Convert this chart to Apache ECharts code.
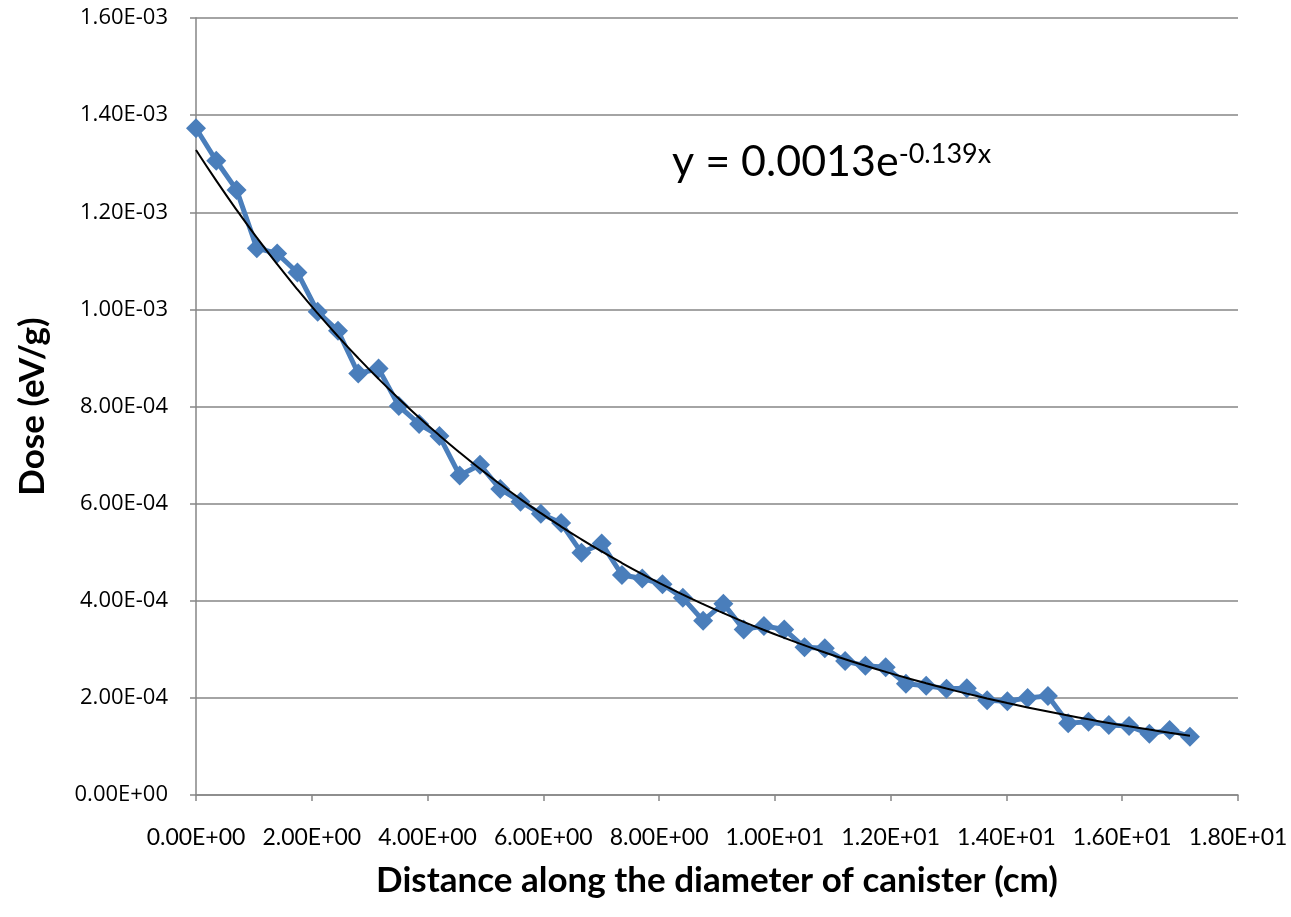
<!DOCTYPE html>
<html>
<head>
<meta charset="utf-8">
<script src="https://cdn.jsdelivr.net/npm/echarts@6/dist/echarts.min.js"></script>
<style>
html,body{margin:0;padding:0;background:#fff;}
#chart{width:1291px;height:917px;}
</style>
</head>
<body>
<div id="chart"></div>
<script>
// Distance along the diameter (cm)
const distance = [
  0.000, 0.350, 0.701, 1.051, 1.402, 1.752, 2.102, 2.453, 2.803, 3.154,
  3.504, 3.854, 4.205, 4.555, 4.906, 5.256, 5.606, 5.957, 6.307, 6.658,
  7.008, 7.358, 7.709, 8.059, 8.410, 8.760, 9.110, 9.461, 9.811, 10.162,
  10.512, 10.862, 11.213, 11.563, 11.914, 12.264, 12.614, 12.965, 13.315, 13.666,
  14.016, 14.366, 14.717, 15.067, 15.418, 15.768, 16.118, 16.469, 16.819, 17.170
];
// Dose (eV/g)
const dose = [
  1.373e-3, 1.306e-3, 1.246e-3, 1.126e-3, 1.115e-3, 1.076e-3, 0.995e-3, 0.956e-3, 0.868e-3, 0.878e-3,
  0.801e-3, 0.764e-3, 0.739e-3, 0.658e-3, 0.680e-3, 0.630e-3, 0.604e-3, 0.579e-3, 0.560e-3, 0.499e-3,
  0.518e-3, 0.453e-3, 0.446e-3, 0.434e-3, 0.406e-3, 0.359e-3, 0.394e-3, 0.341e-3, 0.348e-3, 0.341e-3,
  0.304e-3, 0.302e-3, 0.276e-3, 0.266e-3, 0.263e-3, 0.229e-3, 0.225e-3, 0.219e-3, 0.220e-3, 0.195e-3,
  0.193e-3, 0.200e-3, 0.204e-3, 0.148e-3, 0.151e-3, 0.144e-3, 0.142e-3, 0.126e-3, 0.134e-3, 0.120e-3
];
const xTicks = { min: 0, max: 18, interval: 2 };
const yTicks = { min: 0, max: 0.0016, interval: 0.0002 };
const equationText = ['y = 0.0013e', '-0.139x'];

// Exponential trendline: least-squares fit of ln(dose) vs distance (as a spreadsheet trendline does)
function expFit(xs, ys) {
  const n = xs.length;
  let sx = 0, sy = 0, sxx = 0, sxy = 0;
  for (let i = 0; i < n; i++) {
    const ly = Math.log(ys[i]);
    sx += xs[i]; sy += ly; sxx += xs[i] * xs[i]; sxy += xs[i] * ly;
  }
  const b = (n * sxy - sx * sy) / (n * sxx - sx * sx);
  const a = (sy - b * sx) / n;
  return { A: Math.exp(a), k: b };
}
const fit = expFit(distance, dose);
const trend = distance.map(x => [x, fit.A * Math.exp(fit.k * x)]);

function sci(v) {
  let s = Number(v).toExponential(2).toUpperCase();
  const m = s.match(/^(-?[\d.]+)E([+-])(\d+)$/);
  if (!m) return s;
  const e = m[3].length < 2 ? '0' + m[3] : m[3];
  return m[1] + 'E' + m[2] + e;
}

const chart = echarts.init(document.getElementById('chart'));
const grey = '#868686';
chart.setOption({
  animation: false,
  backgroundColor: '#ffffff',
  grid: { left: 196, right: 53, top: 18, bottom: 122, containLabel: false, outerBoundsMode: 'none' },
  xAxis: {
    type: 'value', min: xTicks.min, max: xTicks.max, interval: xTicks.interval,
    name: 'Distance along the diameter of canister (cm)',
    nameLocation: 'middle', nameGap: 68,
    nameTextStyle: { fontFamily: 'Lato', fontWeight: 'bold', fontSize: 35, color: '#000' },
    axisLine: { show: true, onZero: false, lineStyle: { color: grey, width: 1.5 } },
    axisTick: { show: true, length: 6, lineStyle: { color: grey, width: 1.5 } },
    splitLine: { show: false },
    axisLabel: { formatter: sci, color: '#000', fontFamily: 'Lato', fontSize: 23, margin: 31 }
  },
  yAxis: {
    type: 'value', min: yTicks.min, max: yTicks.max, interval: yTicks.interval,
    name: 'Dose (eV/g)', nameLocation: 'middle', nameRotate: 90, nameGap: 146,
    nameTextStyle: { fontFamily: 'Lato', fontWeight: 'bold', fontSize: 35, color: '#000' },
    axisLine: { show: true, lineStyle: { color: grey, width: 1.5 } },
    axisTick: { show: true, length: 6, lineStyle: { color: grey, width: 1.5 } },
    splitLine: { show: true, lineStyle: { color: grey, width: 1.5 } },
    axisLabel: {
      formatter: v => '{v|' + sci(v) + '}', color: '#000', fontFamily: 'Open Sans', fontSize: 22, margin: 28,
      rich: { v: { fontFamily: 'Open Sans', fontSize: 22, color: '#000' } }
    }
  },
  graphic: [{
    type: 'text', left: 672, top: 141, z: 100,
    style: {
      text: '{m|' + equationText[0] + '}{s|' + equationText[1] + '}',
      rich: {
        m: { fontFamily: 'Lato', fontSize: 43, fill: '#000', verticalAlign: 'bottom' },
        s: { fontFamily: 'Lato', fontSize: 27, fill: '#000', verticalAlign: 'top' }
      }
    }
  }],
  series: [{
    type: 'line', name: 'Dose', z: 2,
    data: distance.map((x, i) => [x, dose[i]]),
    symbol: 'diamond', symbolSize: 20,
    lineStyle: { color: '#4a7ebb', width: 5 },
    itemStyle: { color: '#4a7ebb' }
  }, {
    type: 'line', name: 'Trend', z: 3,
    data: trend, symbol: 'none', smooth: true,
    lineStyle: { color: '#000', width: 2 }
  }]
});
</script>
</body>
</html>
